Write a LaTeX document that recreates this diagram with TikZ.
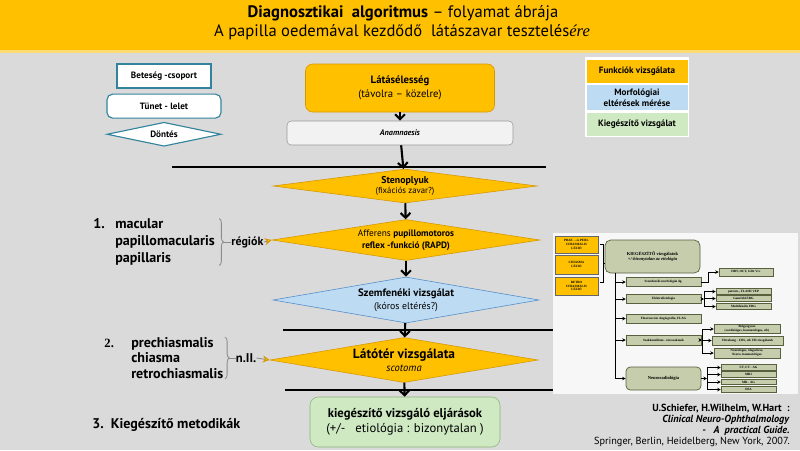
\documentclass[tikz,border=0pt]{standalone}
\usepackage{fontspec}
\setmainfont{PT Sans}
\newfontfamily\timesfont{Liberation Serif}
\usetikzlibrary{shapes.geometric, arrows.meta, positioning, decorations.pathreplacing}

\definecolor{bggrey}{RGB}{218,218,218}
\definecolor{funkc}{RGB}{255,192,0}
\definecolor{funkcdark}{RGB}{214,150,0}
\definecolor{morfo}{RGB}{189,219,243}
\definecolor{morfodark}{RGB}{80,140,200}
\definecolor{kieg}{RGB}{207,234,194}
\definecolor{kiegdark}{RGB}{140,180,120}
\definecolor{tealline}{RGB}{49,132,155}
\definecolor{olivefill}{RGB}{197,205,172}
\definecolor{olivedark}{RGB}{88,96,62}

\newcommand{\pxl}{0.025cm}
\newcommand{\titlefnt}{\fontsize{11.8}{13}\selectfont}
\newcommand{\nodefnt}{\fontsize{7}{8}\selectfont}
\newcommand{\subfnt}{\fontsize{6.2}{7}\selectfont}
\newcommand{\bigfnt}{\fontsize{9}{10.5}\selectfont}
\newcommand{\legfnt}{\bfseries\fontsize{6.5}{7.5}\selectfont}
\newcommand{\lblfnt}{\bfseries\fontsize{10}{12}\selectfont}
\newcommand{\credfnt}{\fontsize{7.3}{7.8}\selectfont}
\newcommand{\tinyfnt}{\timesfont\bfseries\fontsize{2.3}{2.7}\selectfont}
\newcommand{\kvfnt}{\timesfont\bfseries\fontsize{3.2}{4}\selectfont}

\begin{document}
\begin{tikzpicture}[x=0.025cm, y=-0.025cm, >={Straight Barb[length=3.5pt,width=7pt]}]
    \tikzstyle{funkcio} = [rectangle, rounded corners=5pt, draw=funkcdark, fill=funkc, align=center, font=\fontsize{7.6}{9.5}\selectfont]
    \tikzstyle{anambox} = [rectangle, rounded corners=3pt, draw=black!40, fill=black!5, align=center, font=\fontsize{5.8}{7}\selectfont]
    \tikzstyle{kiegbox} = [rectangle, rounded corners=6pt, draw=kiegdark, fill=kieg, align=center, font=\bigfnt]
    \tikzstyle{dontes} = [diamond, draw=funkcdark, fill=funkc, inner sep=0pt]
    \tikzstyle{dtext} = [align=center, font=\nodefnt, inner sep=0pt]
    \tikzstyle{legbox} = [rectangle, draw=tealline, line width=0.8pt, fill=white, font=\legfnt, inner sep=0pt]
    \tikzstyle{legcol} = [rectangle, minimum width=101*\pxl, inner sep=0pt, align=center, font=\legfnt]
    \tikzstyle{lbl} = [font=\lblfnt, inner sep=0pt, align=left]
    \tikzstyle{arrow} = [line width=1.5pt, ->]
    \tikzstyle{sepline} = [line width=1.8pt]
    \tikzstyle{bracket} = [black!45, line width=0.6pt]
    \tikzstyle{sidearrow} = [line width=0.6pt, draw=black!45, -{Stealth[length=5pt,width=5pt,color=funkcdark,fill=funkc]}]
    \tikzstyle{lezio} = [rectangle, draw=black!60, line width=0.3pt, fill=funkc, align=center, font=\tinyfnt, inner sep=0pt, minimum width=43*\pxl]
    \tikzstyle{kvbox} = [rectangle, rounded corners=3pt, draw=olivedark, line width=0.5pt, fill=olivefill, align=center, font=\kvfnt, inner sep=0pt]
    \tikzstyle{kvleaf} = [rectangle, draw=olivedark, line width=0.4pt, fill=olivefill, align=center, font=\tinyfnt, inner sep=0pt]
    \tikzstyle{kline} = [line width=0.6pt]
    \tikzstyle{karrow} = [line width=0.5pt, -{Stealth[length=2.5pt,width=2.5pt]}]

    \useasboundingbox (0,0) rectangle (800,450);
    \fill[bggrey] (0,0) rectangle (800,450);
    \fill[funkc!55!white] (0,49) rectangle (800,53);
    \fill[funkc] (0,0) rectangle (800,50);

    % title
    \node (title1) [font=\titlefnt] at (403,13) {\textbf{Diagnosztikai~~algoritmus} -- folyamat ábrája};
    \node (title2) [font=\titlefnt] at (402,32) {A papilla oedemával kezdődő~~látászavar tesztelés{\timesfont\itshape ére}};

    % legend left
    \node (beteg) [legbox, minimum width=94*\pxl, minimum height=24*\pxl] at (164,76) {Beteség -csoport};
    \node (tunet) [legbox, rounded corners=4pt, minimum width=114*\pxl, minimum height=24*\pxl, below=0.125cm of beteg] {Tünet - lelet};
    \node (dont) [legbox, diamond, aspect=4.75, minimum width=114*\pxl, minimum height=24*\pxl, below=0.075cm of tunet] {Döntés};

    % legend right
    \fill[white] (585,57) rectangle (689,137);
    \node (lfunk) [legcol, fill=funkc, minimum height=23*\pxl] at (637,71) {Funkciók vizsgálata};
    \node (lmorf) [legcol, fill=morfo, minimum height=25*\pxl, below=0.05cm of lfunk] {Morfológiai\\eltérések mérése};
    \node (lkieg) [legcol, fill=kieg, minimum height=23*\pxl, below=0.05cm of lmorf] {Kiegészítő vizsgálat};

    % main chain
    \node (latas) [funkcio, minimum width=189*\pxl, minimum height=48*\pxl] at (400,88) {\textbf{Látásélesség}\\(távolra -- közelre)};
    \node (anam) [anambox, minimum width=226*\pxl, minimum height=24*\pxl] at (400,133) {\textbf{\textit{Anamnaesis}}};
    \node (steno) [dontes, minimum width=264*\pxl, minimum height=34*\pxl] at (405,186) {};
    \node (stenotxt) [dtext] at (steno) {\textbf{Stenoplyuk}\\[-1pt]{\subfnt (fixációs zavar?)}};
    \node (aff) [dontes, minimum width=268*\pxl, minimum height=41*\pxl] at (406,240) {};
    \node (afftxt) [dtext, font=\fontsize{6.6}{8.5}\selectfont] at (aff) {Afferens \textbf{pupillomotoros}\\\textbf{reflex -funkció (RAPD)}};
    \node (szem) [dontes, draw=morfodark, fill=morfo, minimum width=266*\pxl, minimum height=46*\pxl] at (406,300) {};
    \node (szemtxt) [dtext] at (szem) {{\fontsize{7.6}{8}\selectfont\textbf{Szemfenéki vizsgálat}}\\[1pt](kóros eltérés?)};
    \node (latot) [dontes, minimum width=268*\pxl, minimum height=45*\pxl] at (404,360) {};
    \node (latottxt) [dtext, font=\fontsize{9.5}{10}\selectfont] at (latot) {\textbf{Látótér vizsgálata}\\[-1pt]{\fontsize{7.5}{8}\selectfont\textit{scotoma}}};
    \node (kiegv) [kiegbox, minimum width=190*\pxl, minimum height=50*\pxl] at (405,422) {\textbf{kiegészítő vizsgáló eljárások}\\(+/-~~~etiológia : bizonytalan )};

    \coordinate (sep1w) at (172,167);
    \coordinate (sep1e) at (546,167);
    \coordinate (sep2w) at (283,330);
    \coordinate (sep2e) at (553,330);
    \coordinate (sep3w) at (285,390);
    \coordinate (sep3e) at (553,390);
    \draw [sepline] (sep1w) -- (sep1e);
    \draw [sepline] (sep2w) -- (sep2e);
    \draw [sepline] (sep3w) -- (sep3e);

    \draw [arrow] (latas) -- (anam);
    \draw [arrow] (anam) -- (steno);
    \draw [arrow] (steno) -- (aff);
    \draw [arrow] (aff) -- (szem);
    \draw [arrow] (szem) -- (latot);
    \draw [arrow] (latot) -- (kiegv);

    % left labels
    \node (reg1) [lbl, anchor=west] at (115,242) {macular\\papillomacularis\\papillaris};
    \node (num1) [lbl, anchor=north east] at ([xshift=-0.25cm]reg1.north west) {1.};
    \draw [bracket, decorate, decoration={brace, amplitude=3pt}] ([xshift=3pt]reg1.north east) -- ([xshift=3pt]reg1.south east);
    \node (regiok) [lbl, font=\bfseries\fontsize{8.5}{10}\selectfont, right=0.4cm of reg1] {régiók};
    \draw [bracket] ([xshift=6pt]reg1.east) -- (regiok.west);
    \draw [sidearrow] (regiok.east) -- (aff.west);

    \node (reg2) [lbl, anchor=west] at (131,358) {prechiasmalis\\[-1pt]chiasma\\[-1pt]retrochiasmalis};
    \node (num2) [lbl, font=\timesfont\bfseries\fontsize{9}{11}\selectfont, anchor=north east] at ([xshift=-0.42cm, yshift=-1pt]reg2.north west) {2.};
    \draw [bracket, decorate, decoration={brace, amplitude=3pt}] ([xshift=1pt]reg2.north east) -- ([xshift=1pt]reg2.south east);
    \node (nII) [lbl, font=\bfseries\fontsize{9}{11}\selectfont, right=0.3cm of reg2] {n.II.};
    \draw [bracket] ([xshift=4pt]reg2.east) -- (nII.west);
    \draw [sidearrow] (nII.east) -- (latot.west);

    \node (metod) [lbl, anchor=west] at (92,425) {3.~~Kiegészítő metodikák};

    % reference
    \node (credits) [anchor=north east, align=right, font=\credfnt, inner sep=0pt] at (790,404) {\textbf{U.Schiefer, H.Wilhelm, W.Hart~~:}\\\textbf{\textit{Clinical Neuro-Ophthalmology}}\\\textbf{\textit{-~~~A~~practical Guide.}}\\Springer, Berlin, Heidelberg, New York, 2007.};

    % inset: kiegeszito vizsgalatok
    \fill[black!3] (553,233) rectangle (798,394);
    \node (lez1) [lezio, minimum height=17*\pxl] at (576.5,244.5) {PRAE -- és PERI-\\CHIASMALIS\\LÉZIÓ};
    \node (lez2) [lezio, minimum height=19*\pxl] at (576.5,264.5) {CHIASMA\\LÉZIÓ};
    \node (lez3) [lezio, minimum height=18*\pxl] at (576.5,286) {RETRO\\CHIASMALIS\\LÉZIÓ};
    \node (kvmain) [kvbox, rounded corners=4pt, minimum width=95*\pxl, minimum height=33*\pxl] at (652.5,256.5) {KIEGÉSZÍTŐ vizsgálatok\\\textit{+/-bizonytalan az etiológia}};
    \draw [kline] (600,244) -- (603,244) -- (603,282) -- (600,282);
    \draw [kline] (603,263) -- (kvmain.west |- 0,263);

    \node (br1) [kvleaf, minimum width=75*\pxl, minimum height=9*\pxl] at (663.5,282) {Szemfenéki morfológiai dg.};
    \node (br2) [kvleaf, minimum width=75*\pxl, minimum height=9*\pxl] at (663.5,299) {Elektrofiziológia};
    \node (br3) [kvleaf, minimum width=75*\pxl, minimum height=9*\pxl] at (663.5,318.5) {Fluoreszcein Angiográfia, FLAG};
    \node (br4) [kvleaf, minimum width=75*\pxl, minimum height=10*\pxl] at (663.5,340) {Szakkonzílium - társszakmák};
    \node (br5) [kvbox, minimum width=75*\pxl, minimum height=23*\pxl] at (663.5,378.5) {Neuroradiológia};

    \node (hrt) [kvleaf, minimum width=54*\pxl, minimum height=8*\pxl] at (746,272) {HRT, OCT, GDx Vcc};
    \node (ef1) [kvleaf, minimum width=55*\pxl, minimum height=5.5*\pxl] at (743.5,291.5) {pattern-, FLASH VEP};
    \node (ef2) [kvleaf, minimum width=55*\pxl, minimum height=5.5*\pxl] at (743.5,298.5) {Ganzfeld ERG};
    \node (ef3) [kvleaf, minimum width=55*\pxl, minimum height=5.5*\pxl] at (743.5,306.5) {Multifokális ERG};
    \node (sz1) [kvleaf, minimum width=66*\pxl, minimum height=8.5*\pxl] at (747,329) {Belgyógyász\\(cardiológus, haematológus, stb)};
    \node (sz2) [kvleaf, minimum width=71*\pxl, minimum height=9*\pxl] at (747.5,340.5) {Ultrahang - CDS, stb UH-vizsgálatok};
    \node (sz3) [kvleaf, minimum width=66*\pxl, minimum height=10*\pxl] at (747,353) {Neurológus, idegsebész,\\Neuro-traumatológus};
    \node (nr1) [kvleaf, minimum width=55*\pxl, minimum height=5.5*\pxl] at (748.5,367.5) {CT, CT - AG};
    \node (nr2) [kvleaf, minimum width=55*\pxl, minimum height=5.5*\pxl] at (748.5,374.5) {MRI};
    \node (nr3) [kvleaf, minimum width=55*\pxl, minimum height=5.5*\pxl] at (748.5,382) {MR - AG};
    \node (nr4) [kvleaf, minimum width=55*\pxl, minimum height=5.5*\pxl] at (748.5,389.5) {DSA};

    \coordinate (trunk) at (615,273);
    \draw [kline] (trunk) -- (trunk |- br5.west);
    \foreach \b in {br1,br2,br3,br4,br5}
        \draw [karrow] (trunk |- \b.west) -- (\b.west);
    \draw [karrow] (br1.east) -- ++(7,0) |- (hrt.west);
    \coordinate (efj) at (704,299);
    \coordinate (szj) at (702,340);
    \coordinate (nrj) at (707,378.5);
    \draw [karrow] (br2.east) -- (efj);
    \draw [karrow] (br4.east) -- (szj);
    \draw [karrow] (br5.east) -- (nrj);
    \foreach \l in {ef1,ef2,ef3}
        \draw [karrow] (efj) |- (\l.west);
    \foreach \l in {sz1,sz2,sz3}
        \draw [karrow] (szj) |- (\l.west);
    \foreach \l in {nr1,nr2,nr3,nr4}
        \draw [karrow] (nrj) |- (\l.west);
\end{tikzpicture}
\end{document}
